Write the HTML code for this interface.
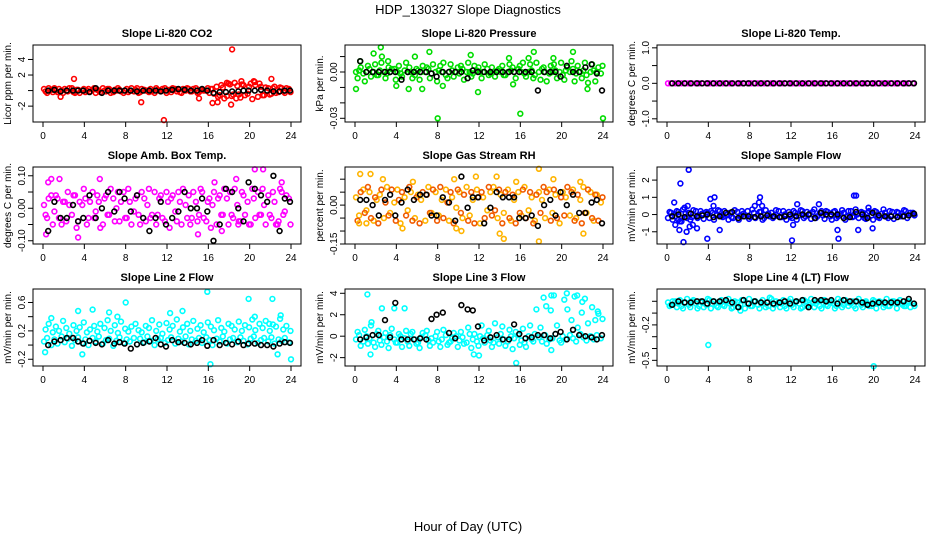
<!DOCTYPE html>
<html><head><meta charset="utf-8"><style>
html,body{margin:0;padding:0;background:#fff}
svg{display:block;font-family:"Liberation Sans",sans-serif}
</style></head><body>
<svg id="chart" width="936" height="540" viewBox="0 0 936 540" xmlns="http://www.w3.org/2000/svg">
<text x="468" y="14" font-size="13" text-anchor="middle">HDP_130327  Slope Diagnostics</text>
<text x="468" y="531" font-size="13" text-anchor="middle">Hour of Day (UTC)</text>
</svg>
<script>
const hours = [0.1,0.4,0.8,1.1,1.4,1.8,2.1,2.4,2.8,3.1,3.4,3.8,4.1,4.4,4.8,5.1,5.4,5.8,6.1,6.4,6.8,7.1,7.4,7.8,8.1,8.4,8.8,9.1,9.4,9.8,10.1,10.4,10.8,11.1,11.4,11.8,12.1,12.4,12.8,13.1,13.4,13.8,14.1,14.4,14.8,15.1,15.4,15.8,16.1,16.4,16.8,17.1,17.4,17.8,18.1,18.4,18.8,19.1,19.4,19.8,20.1,20.4,20.8,21.1,21.4,21.8,22.1,22.4,22.8,23.1,23.4,23.8];
const hoursB = [0.5,1.1,1.7,2.3,2.9,3.4,3.9,4.5,5.1,5.7,6.3,6.9,7.4,7.9,8.5,9.1,9.7,10.3,10.9,11.4,11.9,12.5,13.1,13.7,14.3,14.9,15.4,15.9,16.5,17.1,17.7,18.3,18.9,19.4,19.9,20.5,21.1,21.7,22.3,22.9,23.4,23.9];
const xTicks = [0,4,8,12,16,20,24];

// Panel 1: CO2
const co2A = [0.2,-0.3,0.1,0.3,-0.2,0,0.2,-0.1,0.3,-0.3,0.1,0,-0.2,0.2,0.1,-0.3,0,0.3,-0.1,0.2,-0.2,0,0.1,-0.3,0.2,0,-0.1,0.3,-0.2,0.1,0,0.2,-0.3,0.1,-0.1,0.3,0,-0.2,0.2,0.1,-0.3,0,0.2,-0.1,0.3,-0.2,0.1,0,-0.3,0.2,0.5,-0.6,0.4,-0.7,0.8,-0.5,0.6,-0.9,0.7,-0.4,0.9,1.2,-0.8,0.5,-0.6,0.3,-0.4,0.5,-0.2,0.3,-0.3,0.2];
const co2B = [-0.1,0.3,-0.2,0,0.2,-0.3,0,0.3,-0.2,0.1,-0.3,0.2,0,-0.1,0.3,0.1,-0.2,0,0.2,-0.3,0.1,0.3,-0.1,0,-0.2,0.3,0.1,-0.3,0.2,0,-0.2,-0.1,0.3,0,0.2,-0.3,0.1,0.3,-0.1,-0.2,0.2,0.3,-0.1,0.2,-0.3,0.1,0,0.3,0.2,-0.4,-0.8,0.7,-1,0.9,-0.7,1,-0.5,0.8,-0.6,0.5,-1.1,0.7,0.9,-0.6,0.4,-0.5,0.3,-0.3,0.4,-0.1,0.3,-0.2];
const co2Out = [[1.7,-0.8],[3,1.5],[9.5,-1.5],[11.7,-3.8],[15.1,-1],[16.4,-1.6],[16.9,-1.5],[17.8,1],[18.2,-1.8],[18.3,5.3],[18.7,-1],[19.2,1.2],[20.5,1.1],[22.1,1.5]];
const co2K = [0,0.1,-0.1,0,0,0,0,-0.2,0.3,-0.3,0,0,0,0,0,-0.1,0,0,0,-0.1,0,0.1,0.2,0.1,0,0,0.2,0,-0.3,-0.2,-0.2,-0.1,-0.1,0,0,0,0.1,0,-0.1,-0.1,0,0];

// Panel 2: Pressure
const prA = [0,0.001,-0.001,0,0.002,0,-0.002,0.001,0,-0.001,0,0.002,0,-0.001,0.001,0,0,-0.002,0.001,0,0,0.002,-0.001,0,0.001,0,-0.002,0,0.001,0,-0.001,0.002,0,0,-0.001,0.001,0,0,0.002,-0.001,0,0.001,0,-0.002,0,0.001,0,0.002,0,-0.001,0,0.001,-0.002,0,0.002,0,-0.001,0,0.001,0,-0.002,0.001,0,0.002,-0.001,0,0.001,-0.002,0,0.001,0,-0.001];
const prB = [-0.004,0.003,-0.006,0.004,-0.003,0.005,-0.002,0.006,-0.004,0.003,0.002,-0.005,0.004,-0.003,0.006,0.003,-0.004,0.002,-0.005,0.004,0.003,-0.004,0.005,-0.006,0.004,0.006,-0.004,0.005,-0.003,0.003,0.004,-0.005,0.006,-0.003,0.004,0.003,-0.004,0.005,-0.002,0.003,-0.003,0.002,0.004,-0.002,0.005,0.003,-0.004,0.004,0.006,-0.003,0.005,-0.004,0.006,-0.005,0.003,-0.006,0.004,0.005,-0.004,0.006,-0.005,0.003,0.007,-0.006,0.004,-0.004,0.006,-0.007,0.005,-0.006,0.003,0.004];
const prOut = [[0.1,-0.011],[0.5,0.007],[1.8,0.012],[2.5,0.016],[2.6,0.01],[3.2,0.007],[4,-0.009],[5.2,-0.011],[5.8,0.01],[6.5,-0.011],[7.2,0.013],[8,-0.03],[8.5,-0.009],[11.2,0.011],[11.9,-0.013],[14.9,0.009],[15.3,-0.008],[16,-0.027],[16.8,0.009],[17.3,0.013],[19.2,0.009],[21.1,0.013],[22.5,-0.011],[24,-0.03]];
const prK = [0.007,0,0,0,0,0,0,-0.005,0,0,0,0,-0.001,-0.003,0,0,0,0,-0.004,0.001,0,0,0,0,0,0,0,0,0,0,-0.012,0,0,0,-0.003,0.004,0,0,0.003,0.005,-0.001,-0.012];

// Panel 3: Li-820 Temp
const tpA = [0,0,0,0,0,0,0,0,0,0,0,0,0,0,0,0,0,0,0,0,0,0,0,0,0,0,0,0,0,0,0,0,0,0,0,0,0,0,0,0,0,0,0,0,0,0,0,0,0,0,0,0,0,0,0,0,0,0,0,0,0,0,0,0,0,0,0,0,0,0,0,0];
const tpK = [0,0,0,0,0,0,0,0,0,0,0,0,0,0,0,0,0,0,0,0,0,0,0,0,0,0,0,0,0,0,0,0,0,0,0,0,0,0,0,0,0,0,0,0,0,0];

// Panel 4: Amb Box Temp
const abA = [0.01,-0.03,0.04,-0.01,0.03,-0.05,0.02,0.05,-0.02,0.04,-0.04,0.01,0.03,-0.03,0.05,-0.01,0.02,-0.05,0.04,-0.02,0.03,0,-0.04,0.05,-0.03,0.02,-0.01,0.04,-0.05,0.03,0.01,-0.03,0.05,-0.02,0.04,-0.04,0.02,0.03,-0.01,0.05,-0.05,0.01,0.04,-0.03,0.02,-0.02,0.05,-0.04,0.03,0.01,-0.05,0.04,-0.02,0.03,0.05,-0.03,0.01,-0.04,0.04,0.02,-0.05,0.03,0.05,-0.02,0.01,0.04,-0.03,0.02,-0.04,0.05,-0.01,0.03];
const abB = [-0.02,0.03,-0.05,0.04,-0.03,0.02,-0.04,0.01,0.04,-0.06,0.02,0.06,-0.05,0.02,-0.03,0.04,-0.06,0.03,-0.02,0.06,-0.04,0.05,0.02,-0.03,0.06,-0.05,0.03,-0.02,0.05,-0.04,0.06,-0.02,-0.05,0.03,-0.03,0.05,-0.06,0.04,-0.04,0.02,0.06,-0.03,-0.05,0.05,-0.04,0.06,-0.03,0.02,-0.06,0.05,0.03,-0.02,0.06,-0.05,-0.02,0.06,-0.04,0.05,-0.02,-0.05,0.06,-0.03,-0.02,0.06,-0.05,-0.02,0.05,-0.05,0.06,-0.02,0.04,-0.05];
const abOut = [[0.3,-0.08],[0.5,0.08],[0.8,0.09],[1.6,0.09],[3.4,-0.09],[5.5,0.09],[15,-0.08],[16.6,0.08],[17.3,-0.07],[18.7,0.09],[18.9,-0.05],[20.5,0.12],[21.3,0.12],[22.7,-0.05],[23.1,0.08]];
const abK = [-0.07,0.02,-0.03,-0.03,0.01,-0.04,-0.03,0.04,-0.03,0,0.05,-0.01,0.05,0.03,-0.01,0.04,-0.03,-0.07,-0.03,0.02,-0.05,-0.03,-0.01,0.05,0,0,0.03,-0.01,-0.1,-0.05,0.06,0.05,0,-0.04,0.08,0.06,0.04,0.02,0.1,-0.07,0.03,0.02];

// Panel 5: Gas Stream RH
const rhA = [0.03,-0.04,0.06,-0.02,0.05,-0.06,0.02,0.04,-0.05,0.07,-0.03,0.01,0.06,-0.07,0.03,-0.02,0.05,-0.05,0.04,0.02,-0.06,0.07,-0.03,0.05,-0.04,0.02,0.06,-0.06,0.03,-0.01,0.05,-0.05,0.07,-0.04,0.02,0.06,-0.07,0.03,-0.02,0.05,0.07,-0.05,0.04,-0.03,0.06,-0.06,0.02,0.05,-0.04,0.07,-0.02,0.03,-0.06,0.05,0.02,-0.05,0.06,-0.03,0.04,-0.07,0.05,0.03,-0.04,0.06,-0.05,0.02,0.07,-0.03,0.05,-0.06,0.04,0.01];
const rhB = [-0.06,0.05,-0.03,0.07,-0.05,0.03,-0.07,0.06,0.01,-0.04,0.06,-0.06,0.02,0.05,-0.04,0.07,-0.06,0.03,-0.07,0.05,0.04,-0.03,0.06,-0.06,0.07,-0.05,0.01,0.05,-0.07,0.06,-0.03,0.04,-0.06,0.05,-0.07,0.03,0.05,-0.05,0.07,-0.04,-0.02,0.06,-0.07,0.05,-0.05,0.04,-0.07,-0.03,0.06,-0.05,0.05,-0.07,0.04,-0.03,0.07,0.05,-0.06,0.06,-0.05,0.03,-0.04,0.07,0.05,-0.06,0.04,-0.07,-0.03,0.06,-0.05,0.04,-0.06,0.03];
const rhOut = [[0.5,0.12],[1.5,0.12],[2.7,0.1],[4.6,-0.09],[5.6,0.09],[9.6,0.1],[9.8,-0.09],[10.3,-0.1],[11.7,0.11],[13.7,0.11],[14,-0.11],[14.4,-0.13],[15.6,0.09],[17.8,0.14],[17.8,-0.14],[19.2,0.1],[21.8,0.09],[22.1,-0.11],[1.1,-0.07],[0.4,-0.07]];
const rhK = [0.02,0.02,0,-0.04,0.02,0.04,-0.04,0.01,0.06,0.02,0.04,0.04,-0.04,-0.04,0.03,0.01,-0.06,0.11,-0.01,0.03,0.03,-0.07,-0.01,0.05,0.03,0.03,0.03,-0.05,-0.05,-0.04,-0.08,0,0.02,-0.04,0.05,0,0.04,-0.03,-0.03,0.01,0.02,-0.07];

// Panel 6: Sample Flow
const sfA = [-0.2,0.1,-0.1,0.15,-0.2,0.05,0.1,-0.15,0.2,-0.1,0.05,0.15,-0.2,0.1,-0.05,0.2,-0.15,0,0.1,-0.2,0.15,-0.1,0.05,0.2,-0.15,0.1,-0.05,0.15,-0.2,0.05,0.1,-0.1,0.2,-0.15,0,0.15,-0.2,0.1,-0.05,0.2,-0.1,0.05,0.15,-0.2,0.1,-0.05,0.2,-0.1,0.15,-0.2,0.05,0.1,-0.15,0.2,-0.1,0,0.15,-0.2,0.1,-0.05,0.2,-0.15,0.05,0.1,-0.2,0.15,-0.05,0.1,-0.1,0.2,-0.05,0.1];
const sfB = [0.15,-0.3,0.2,-0.4,0.3,-0.2,-0.3,0.25,-0.2,0.2,-0.25,0.1,0.2,-0.3,0.25,-0.1,0.2,-0.3,-0.15,0.25,-0.3,0.2,-0.1,-0.25,0.3,-0.2,0.15,-0.3,0.25,-0.1,-0.2,0.25,-0.15,0.2,-0.3,-0.1,0.2,-0.3,0.25,-0.2,0.15,-0.25,0.3,-0.1,0.2,-0.25,0.15,-0.3,0.2,-0.1,0.25,-0.3,0.2,-0.15,0.3,-0.2,0.1,-0.25,0.2,-0.3,0.15,-0.2,0.3,-0.1,0.2,-0.25,0.15,-0.1,0.25,-0.2,0.1,-0.05];
const sfOut = [[0.7,0.7],[0.8,-0.6],[1.1,-0.3],[1.2,-0.9],[1.3,1.8],[1.4,-0.4],[1.6,-1.6],[1.7,0.4],[1.9,-1],[2,0.5],[2.1,2.6],[2.2,-0.7],[2.5,-0.6],[2.9,-0.8],[3.9,-1.4],[4.2,0.9],[4.5,0.5],[4.6,1],[5.1,-0.9],[8.5,0.5],[8.9,0.7],[9,1],[9.2,0.5],[12.1,-1.5],[12.2,-0.6],[12.6,0.6],[14.7,0.6],[16.5,-0.9],[16.6,-1.4],[18.1,1.1],[18.3,1.1],[18.5,-0.9],[19.5,0.4],[19.9,-0.8]];
const sfK = [-0.1,0,-0.15,0.05,-0.1,-0.05,0,-0.15,-0.1,0.1,0.15,-0.2,-0.1,-0.1,-0.15,-0.1,-0.05,-0.1,-0.15,-0.1,0,-0.1,0,0,-0.2,0.1,0,0,0,-0.2,-0.15,0.15,0,-0.2,0.1,-0.05,-0.1,-0.1,-0.15,-0.1,-0.05,0.05];

// Panel 7: Line 2 Flow
const l2A = [0.05,0.1,0,0.08,0.02,0.12,0.04,0.09,-0.01,0.07,0.11,0.03,0.08,0,0.1,0.05,0.12,0.02,0.07,0.09,-0.01,0.06,0.11,0.03,0.08,0.05,0.1,0.01,0.09,0.04,0.12,0.06,0,0.08,0.1,0.03,0.07,0.11,0.02,0.09,0.05,0.12,0.01,0.08,0.06,0.1,0.03,0.11,0.07,0,0.09,0.05,0.12,0.02,0.08,0.1,0.04,0.11,0.06,0.01,0.09,0.12,0.03,0.07,0.1,0.05,0.11,0.02,0.08,0.06,0.1,0.04];
const l2B = [0.22,0.3,0.18,0.26,0.2,0.34,0.24,0.16,0.28,0.2,0.25,0.32,0.18,0.22,0.27,0.19,0.3,0.24,0.35,0.2,0.28,0.17,0.33,0.23,0.19,0.26,0.3,0.21,0.18,0.27,0.24,0.35,0.2,0.29,0.16,0.31,0.22,0.27,0.36,0.19,0.25,0.3,0.2,0.34,0.23,0.28,0.18,0.32,0.26,0.21,0.35,0.24,0.19,0.3,0.27,0.22,0.33,0.2,0.28,0.25,0.36,0.21,0.3,0.24,0.34,0.2,0.29,0.26,0.37,0.22,0.27,0.2];
const l2Out = [[0.2,-0.1],[0.8,0.38],[3.4,0.48],[3.8,-0.13],[4.8,0.5],[6.4,0.46],[7.2,0.4],[8,0.6],[12.3,0.45],[13.5,0.48],[15.9,0.75],[16.2,-0.27],[19.9,0.65],[20.5,0.4],[21.9,0.3],[22.2,0.65],[22.7,-0.13],[23,0.42],[24,-0.2]];
const l2K = [0,0.05,0.07,0.1,0.1,0.05,0.02,0.06,0.03,0.01,0.07,0.02,0.04,0.02,-0.05,0.01,0.03,0.05,0.1,0.01,-0.02,0.07,0.04,0.03,0.01,0.03,0.07,-0.01,0.07,0,0.03,0.01,0.05,0,0.02,0.02,0,0,-0.02,0.02,0.04,0.03];

// Panel 8: Line 3 Flow
const l3A = [-0.3,0.1,-0.5,0,-0.2,-0.6,0.2,-0.4,-0.1,-0.5,0.1,-0.3,-0.6,0,-0.2,-0.5,0.2,-0.3,-0.6,-0.1,0.1,-0.4,-0.2,0,-0.5,-0.3,0.1,-0.6,-0.2,0,-0.4,-0.1,-0.6,0.2,-0.3,-0.5,0,-0.2,0.1,-0.4,-0.6,-0.1,0.2,-0.3,-0.5,0,-0.2,0.1,-0.4,-0.6,0,-0.3,0.2,-0.1,-0.5,0.1,-0.3,-0.2,0.2,-0.4,0,-0.3,0.1,-0.2,-0.5,0.2,-0.1,-0.4,0,-0.3,0.1,-0.2];
const l3B = [0.4,-0.9,0.6,-0.7,1,-1,0.5,-0.8,0.3,-1.1,0.7,-0.6,0.2,-1,0.5,-0.9,0.4,-0.7,-1.1,0.3,0.5,-0.9,-0.6,0.4,-1,0.6,-0.8,-0.5,0.3,-1,0.4,-0.7,0.8,-1.1,0.2,-0.9,1,-0.6,0.5,-1,1.2,-0.7,0.9,-0.9,0.6,-1.2,0.4,-0.8,0.7,-1,1,-0.5,2.5,0.8,3.6,-0.7,2.4,3.8,1,-0.6,3.4,2.5,1.5,3.7,0.8,2.2,3.5,1.2,2.7,1.5,2.1,1.6];
const l3Out = [[1.2,3.9],[1.5,-1.7],[1.6,1.3],[2.6,2.6],[3.8,2.6],[4.8,2.6],[11.5,-1.7],[12,-1.8],[15.6,-2.5],[18.5,2.8],[19,3.8],[19,-1.3],[20.5,4],[21.5,3.8],[22,3.2],[23.5,2.3]];
const l3K = [-0.3,-0.1,0.1,0.1,1.5,-0.1,3.1,-0.3,-0.3,-0.3,-0.2,-0.3,1.6,2,2.2,0.3,-0.2,2.9,2.5,2.4,0.9,-0.4,-0.1,0.1,-0.3,-0.3,1.1,0.2,-0.2,-0.1,0.1,0.1,-0.2,0.2,0.4,-0.3,0.6,0.1,0,-0.1,-0.3,0.1];

// Panel 9: Line 4 (LT) Flow
const l4A = [-0.01,-0.03,0,-0.02,-0.04,-0.01,-0.03,0,-0.02,-0.04,-0.01,-0.03,0.01,-0.02,-0.04,-0.01,-0.03,0,-0.02,-0.05,-0.01,-0.03,0.01,-0.02,-0.04,0,-0.03,-0.01,-0.02,-0.04,0.02,-0.03,-0.01,-0.02,-0.04,0,-0.03,-0.01,-0.02,-0.05,0,-0.03,-0.01,-0.02,-0.04,0.01,-0.03,-0.01,-0.02,-0.04,0,-0.03,-0.01,-0.02,-0.04,0,-0.03,-0.01,-0.02,-0.04,0,-0.02,-0.01,-0.03,-0.04,0,-0.02,-0.01,-0.03,-0.04,0,-0.02];
const l4B = [-0.04,0,-0.05,0.01,-0.06,0.02,-0.05,0.01,-0.06,0,-0.05,0.02,-0.06,0,-0.05,0.01,-0.04,0.02,-0.06,0,-0.05,0.01,-0.06,0.02,-0.04,0,-0.06,0.01,-0.05,0.03,-0.06,0,-0.05,0.01,-0.06,0.02,-0.05,0,-0.06,0.01,-0.04,0.02,-0.05,0,-0.06,0.01,-0.04,0,-0.06,0.02,-0.05,0.01,-0.04,0,-0.06,0.02,-0.05,0,-0.04,0.01,-0.06,0,-0.05,0.02,-0.04,0,-0.06,0.01,-0.04,0,-0.05,-0.04];
const l4Out = [[4,-0.37],[12,-0.57],[20,-0.55],[7.1,-0.08]];
const l4K = [-0.03,0,-0.01,-0.01,0,0,-0.02,0,0,0.01,-0.01,-0.05,0.01,-0.02,0,-0.01,-0.01,-0.02,-0.01,0,-0.02,0,0.01,-0.05,0.01,0.01,0,0.01,-0.02,0.01,0,0,-0.01,-0.03,-0.02,-0.01,-0.01,-0.01,-0.01,0,0.02,-0.02];

const panels = [
 {name:'co2',title:'Slope Li-820 CO2',ylab:'Licor ppm per min.',left:33,top:45,ymax:5.86,ymin:-4.04,ticks:[-2,0,2,4],labels:['-2','','2','4'],color:'#ff0000',color2:'#ff0000',a:co2A,b:co2B,out:co2Out,k:co2K},
 {name:'pressure',title:'Slope Li-820 Pressure',ylab:'kPa per min.',left:345,top:45,ymax:0.0175,ymin:-0.0324,ticks:[0.01,0,-0.01,-0.02,-0.03],labels:['','0.00','','','-0.03'],color:'#00dd00',color2:'#00dd00',a:prA,b:prB,out:prOut,k:prK},
 {name:'li820-temp',title:'Slope Li-820 Temp.',ylab:'degrees C per min.',left:657,top:45,ymax:1.08,ymin:-1.09,ticks:[1,0.5,0,-0.5,-1],labels:['1.0','','0.0','','-1.0'],color:'#ff00ff',color2:'#ff00ff',a:tpA,b:null,out:[],k:tpK},
 {name:'amb-box-temp',title:'Slope Amb. Box Temp.',ylab:'degrees C per min.',left:33,top:167,ymax:0.127,ymin:-0.11,ticks:[0.1,0.05,0,-0.05,-0.1],labels:['0.10','','0.00','','-0.10'],color:'#ff00ff',color2:'#ff00ff',a:abA,b:abB,out:abOut,k:abK},
 {name:'gas-stream-rh',title:'Slope Gas Stream RH',ylab:'percent per min.',left:345,top:167,ymax:0.147,ymin:-0.15,ticks:[0.1,0.05,0,-0.05,-0.1,-0.15],labels:['','','0.00','','','-0.15'],color:'#ffb400',color2:'#f05a00',a:rhA,b:rhB,out:rhOut,k:rhK},
 {name:'sample-flow',title:'Slope Sample Flow',ylab:'mV/min per min.',left:657,top:167,ymax:2.76,ymin:-1.71,ticks:[-1,0,1,2],labels:['-1','0','1','2'],color:'#0000ff',color2:'#0000ff',a:sfA,b:sfB,out:sfOut,k:sfK},
 {name:'line2-flow',title:'Slope Line 2 Flow',ylab:'mV/min per min.',left:33,top:289,ymax:0.79,ymin:-0.295,ticks:[-0.2,0,0.2,0.4,0.6],labels:['-0.2','','0.2','','0.6'],color:'#00ffff',color2:'#00ffff',a:l2A,b:l2B,out:l2Out,k:l2K},
 {name:'line3-flow',title:'Slope Line 3 Flow',ylab:'mV/min per min.',left:345,top:289,ymax:4.4,ymin:-2.78,ticks:[-2,0,2,4],labels:['-2','0','2','4'],color:'#00ffff',color2:'#00ffff',a:l3A,b:l3B,out:l3Out,k:l3K},
 {name:'line4-flow',title:'Slope Line 4 (LT) Flow',ylab:'mV/min per min.',left:657,top:289,ymax:0.104,ymin:-0.548,ticks:[0,-0.1,-0.2,-0.3,-0.4,-0.5],labels:['','','-0.2','','','-0.5'],color:'#00ffff',color2:'#00ffff',a:l4A,b:l4B,out:l4Out,k:l4K}
];

const NS='http://www.w3.org/2000/svg';
const svg=document.getElementById('chart');
const W=268,H=77;
function mk(tag,attrs,parent){const e=document.createElementNS(NS,tag);for(const k in attrs)e.setAttribute(k,attrs[k]);parent.appendChild(e);return e;}

panels.forEach(p=>{
  const g=mk('g',{},svg);
  
  
  const xs=h=>p.left+10+h*(W-20)/24;
  const ys=v=>p.top+(p.ymax-v)/(p.ymax-p.ymin)*H;
  const bot=p.top+H;
  const t=mk('text',{x:p.left+W/2,y:p.top-8,'font-size':11,'font-weight':'bold','text-anchor':'middle'},g);
  t.textContent=p.title;
  
  
  const yl=mk('text',{x:0,y:0,'font-size':10,'text-anchor':'middle',transform:`translate(${p.left-22},${p.top+H/2}) rotate(-90)`},g);
  yl.textContent=p.ylab;
  
  
  const pts=mk('g',{fill:'none','stroke-width':1.6},g);
  
  
  const dot=(x,y,c)=>{const cy=ys(y);if(cy<p.top-2||cy>bot+2)return;const e=mk('circle',{cx:xs(x).toFixed(1),cy:cy.toFixed(1),r:2.4,stroke:c},pts);
    
    };
  p.a.forEach((v,i)=>{if(i<hours.length)dot(hours[i],v,p.color);});
  if(p.b)p.b.forEach((v,i)=>{if(i<hours.length)dot(hours[i]+0.15,v,p.color2);});
  p.out.forEach(o=>dot(o[0],o[1],p.color));
  p.k.forEach((v,i)=>{if(i<hoursB.length)dot(hoursB[i],v,'#000');});
  const box=mk('rect',{x:p.left,y:p.top,width:W,height:H,fill:'none',stroke:'#000','stroke-width':1},g);
  
  
  xTicks.forEach(h=>{
    const x=xs(h);
    mk('line',{x1:x,x2:x,y1:bot,y2:bot+5,stroke:'#000'},g);
    const l=mk('text',{x:x,y:bot+17,'font-size':10,'text-anchor':'middle'},g);
    l.textContent=h;
    
    
  });
  p.ticks.forEach((v,i)=>{
    const y=ys(v);
    mk('line',{x1:p.left-5,x2:p.left,y1:y,y2:y,stroke:'#000'},g);
    if(p.labels[i]){
      const l=mk('text',{x:0,y:0,'font-size':10,'text-anchor':'middle',transform:`translate(${p.left-8},${y}) rotate(-90)`},g);
      l.textContent=p.labels[i];
      
      
    }
  });
});
</script>
</body></html>
